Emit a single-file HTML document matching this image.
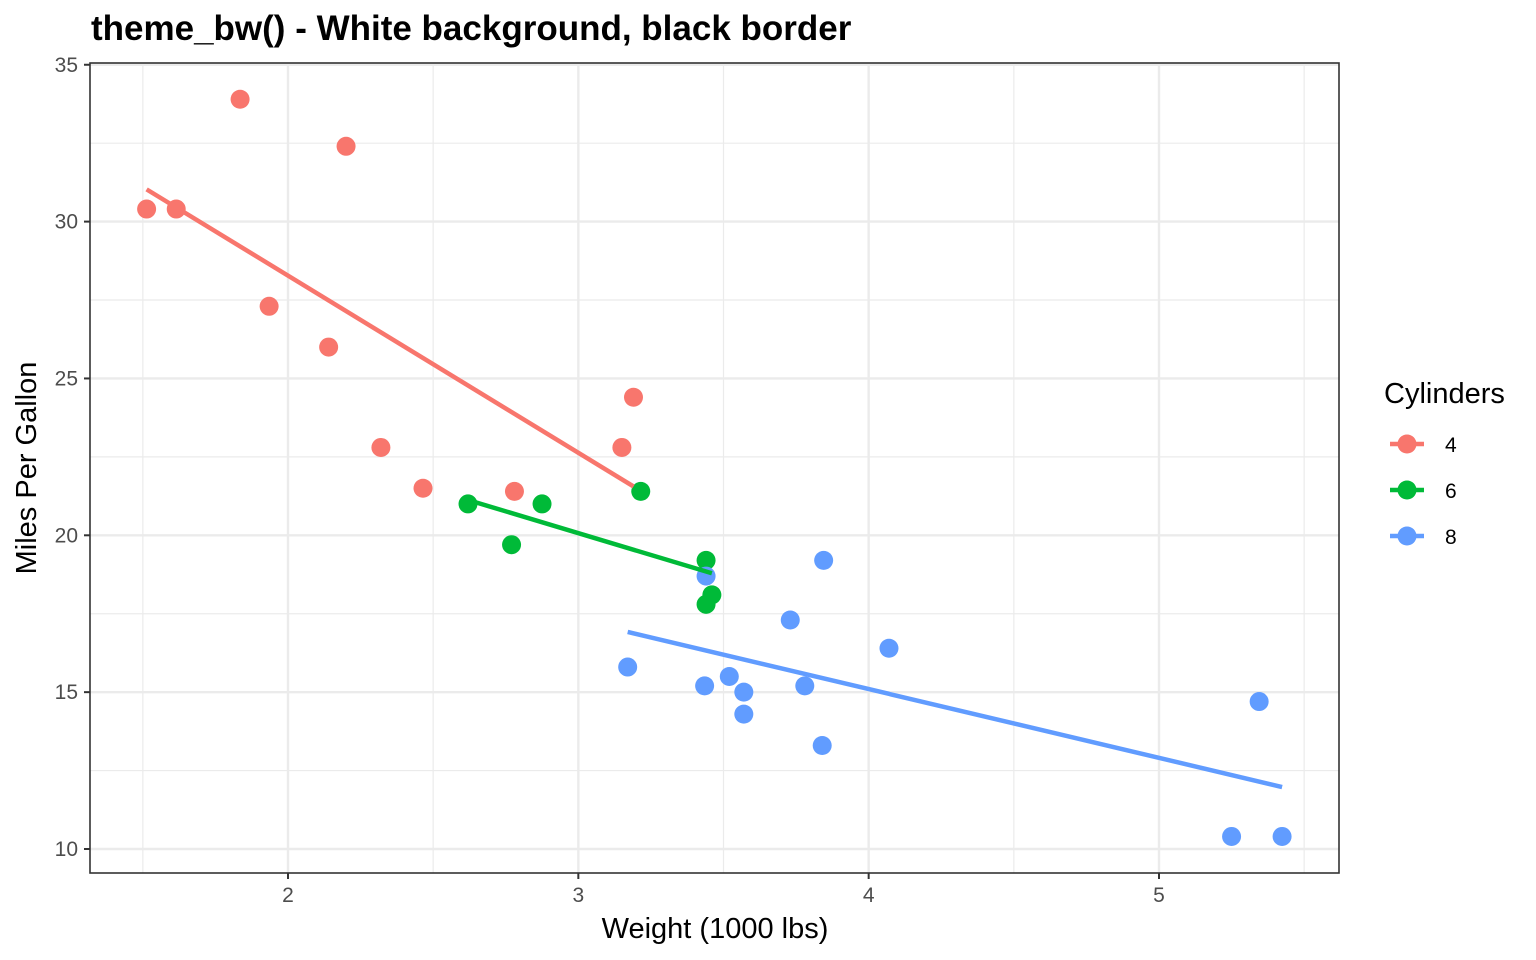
<!DOCTYPE html>
<html><head><meta charset="utf-8">
<style>
html,body{margin:0;padding:0;background:#fff;}
svg{display:block;font-family:"Liberation Sans",sans-serif;}
</style></head>
<body>
<svg id="s" width="1536" height="960" viewBox="0 0 1536 960" xmlns="http://www.w3.org/2000/svg"></svg>
<script>
const X=w=>288+(w-2)*290.33, Y=m=>849-(m-10)*31.37;
const L=90,R=1339,T=63,B=873;
const d=[[2.62,21,6],[2.875,21,6],[2.32,22.8,4],[3.215,21.4,6],[3.44,18.7,8],[3.46,18.1,6],[3.57,14.3,8],[3.19,24.4,4],[3.15,22.8,4],[3.44,19.2,6],[3.44,17.8,6],[4.07,16.4,8],[3.73,17.3,8],[3.78,15.2,8],[5.25,10.4,8],[5.424,10.4,8],[5.345,14.7,8],[2.2,32.4,4],[1.615,30.4,4],[1.835,33.9,4],[2.465,21.5,4],[3.52,15.5,8],[3.435,15.2,8],[3.84,13.3,8],[3.845,19.2,8],[1.935,27.3,4],[2.14,26,4],[1.513,30.4,4],[3.17,15.8,8],[2.77,19.7,6],[3.57,15,8],[2.78,21.4,4]];
const col={4:"#F8766D",6:"#00BA38",8:"#619CFF"};
let h='<text x="91" y="40" font-size="35" font-weight="bold" fill="#000">theme_bw() - White background, black border</text>';
for(let v=1.5;v<=5.5;v+=1)h+=`<line x1="${X(v)}" x2="${X(v)}" y1="${T}" y2="${B}" stroke="#ebebeb" stroke-width="1.2"/>`;
for(let v=12.5;v<=32.5;v+=5)h+=`<line x1="${L}" x2="${R}" y1="${Y(v)}" y2="${Y(v)}" stroke="#ebebeb" stroke-width="1.2"/>`;
for(let v=2;v<=5;v++){h+=`<line x1="${X(v)}" x2="${X(v)}" y1="${T}" y2="${B}" stroke="#ebebeb" stroke-width="2.4"/><line x1="${X(v)}" x2="${X(v)}" y1="${B}" y2="${B+6}" stroke="#333" stroke-width="2"/><text x="${X(v)}" y="${B+29}" font-size="21" fill="#4d4d4d" text-anchor="middle">${v}</text>`;}
for(let v=10;v<=35;v+=5){h+=`<line x1="${L}" x2="${R}" y1="${Y(v)}" y2="${Y(v)}" stroke="#ebebeb" stroke-width="2.4"/><line x1="${L-6}" x2="${L}" y1="${Y(v)}" y2="${Y(v)}" stroke="#333" stroke-width="2"/><text x="${L-12}" y="${Y(v)+7}" font-size="21" fill="#4d4d4d" text-anchor="end">${v}</text>`;}
const fits={4:[1.513,3.19],6:[2.62,3.46],8:[3.17,5.424]};
const lines={};
for(const c of [4,6,8]){const p=d.filter(r=>r[2]==c);const n=p.length;const mx=p.reduce((a,r)=>a+r[0],0)/n,my=p.reduce((a,r)=>a+r[1],0)/n;let sxy=0,sxx=0;p.forEach(r=>{sxy+=(r[0]-mx)*(r[1]-my);sxx+=(r[0]-mx)**2});const b=sxy/sxx,a=my-b*mx;lines[c]=[a,b];}
for(const c of [4,6,8]){for(const r of d.filter(r=>r[2]==c))h+=`<circle cx="${X(r[0])}" cy="${Y(r[1])}" r="9.5" fill="${col[c]}"/>`;}
for(const c of [4,6,8]){const [a,b]=lines[c],[x0,x1]=fits[c];h+=`<line x1="${X(x0)}" y1="${Y(a+b*x0)}" x2="${X(x1)}" y2="${Y(a+b*x1)}" stroke="${col[c]}" stroke-width="4.5"/>`;}
h+=`<rect x="${L}" y="${T}" width="${R-L}" height="${B-T}" fill="none" stroke="#333" stroke-width="1.6"/>`;
h+=`<text x="715" y="938" font-size="29" text-anchor="middle" fill="#000">Weight (1000 lbs)</text>`;
h+=`<text transform="translate(36,468) rotate(-90)" font-size="29" text-anchor="middle" fill="#000">Miles Per Gallon</text>`;
h+=`<text x="1384" y="403" font-size="29" fill="#000">Cylinders</text>`;
[4,6,8].forEach((c,i)=>{const y=444+i*46;h+=`<line x1="1390" x2="1424" y1="${y}" y2="${y}" stroke="${col[c]}" stroke-width="4.5"/><circle cx="1407" cy="${y}" r="9.5" fill="${col[c]}"/><text x="1445" y="${y+8}" font-size="21" fill="#000">${c}</text>`;});
document.getElementById('s').innerHTML=h;
</script>
</body></html>
